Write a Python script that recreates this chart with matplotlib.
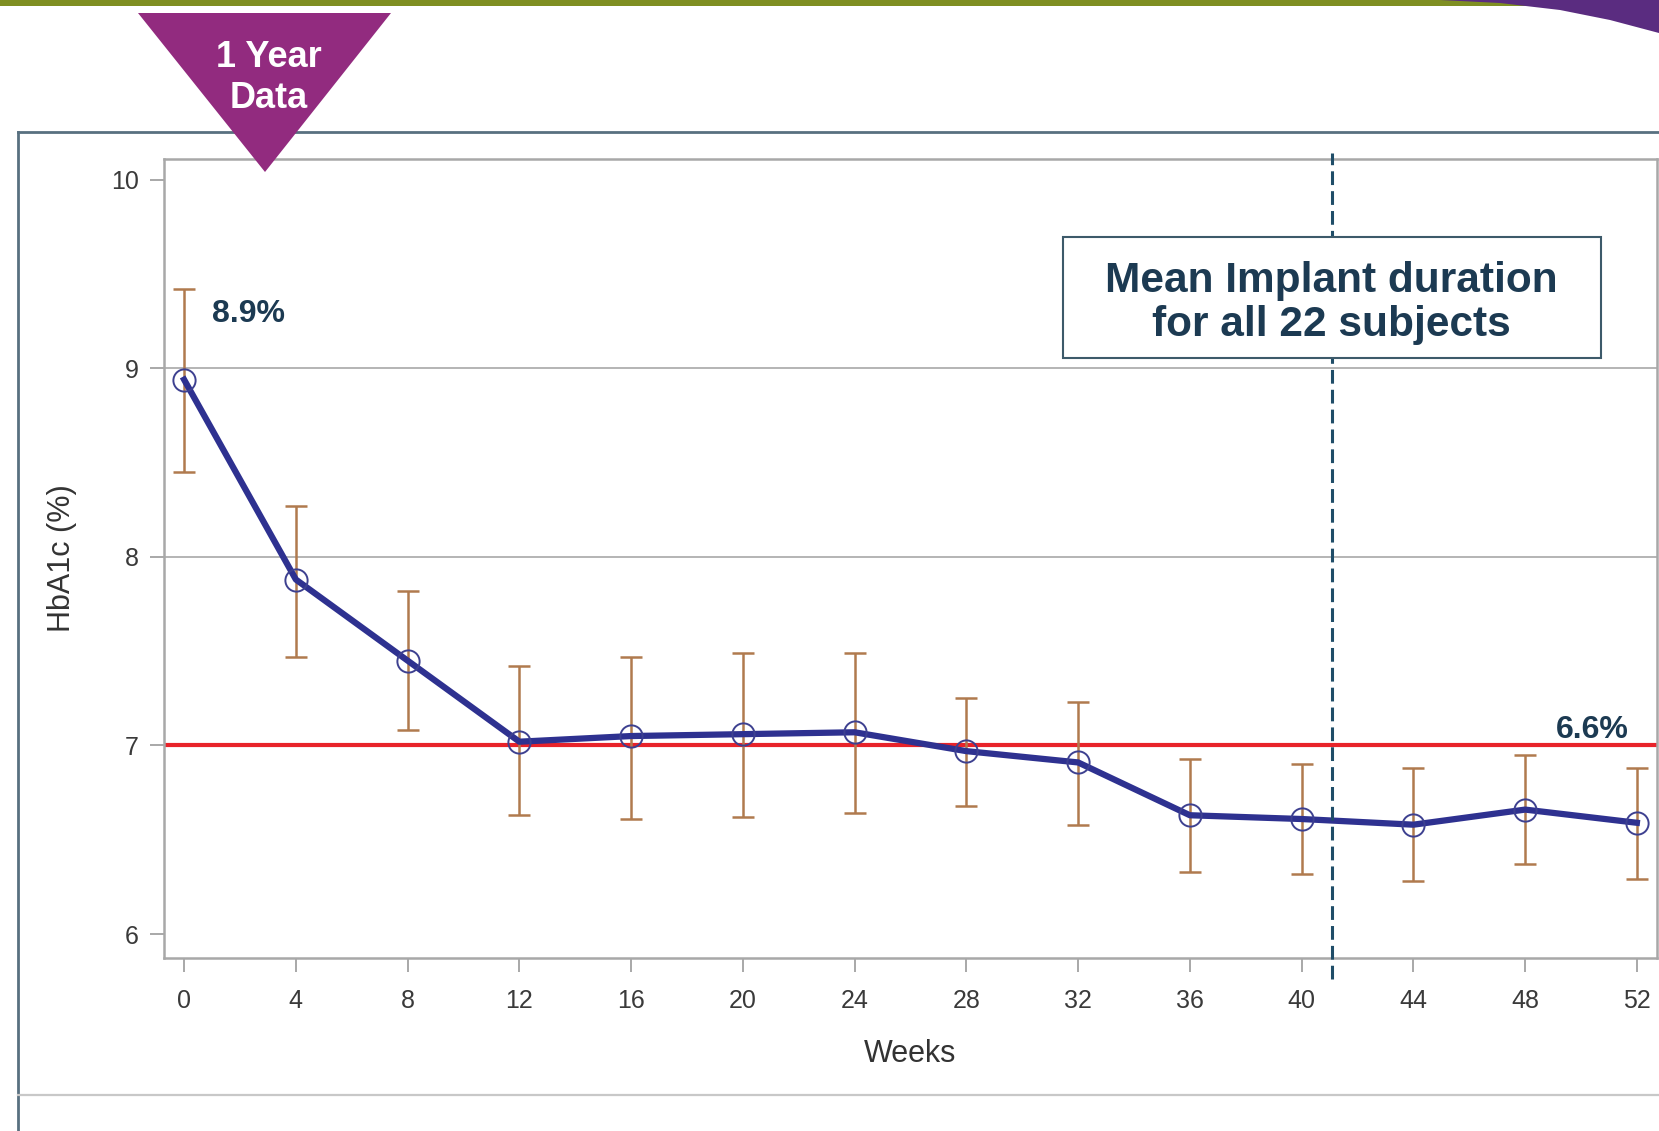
import numpy as np
import matplotlib.pyplot as plt
from matplotlib.patches import Polygon, Rectangle
from matplotlib.lines import Line2D

plt.rcParams['font.family'] = ['Liberation Sans', 'DejaVu Sans']

# datos
weeks = [0, 4, 8, 12, 16, 20, 24, 28, 32, 36, 40, 44, 48, 52]
hba1c = [8.94, 7.88, 7.45, 7.02, 7.05, 7.06, 7.07, 6.97, 6.91, 6.63, 6.61, 6.58, 6.66, 6.59]
upper = [9.42, 8.27, 7.82, 7.42, 7.47, 7.49, 7.49, 7.25, 7.23, 6.93, 6.90, 6.88, 6.95, 6.88]
lower = [8.45, 7.47, 7.08, 6.63, 6.61, 6.62, 6.64, 6.68, 6.58, 6.33, 6.32, 6.28, 6.37, 6.29]
target = 7.0
implant_week = 41.1
yticks = [6, 7, 8, 9, 10]
start_label = '8.9%'
end_label = '6.6%'
box_text = 'Mean Implant duration\nfor all 22 subjects'
banner_text = '1 Year\nData'

W, H = 1659, 1131


def px(x, y):
    # pixeles de la imagen -> fraccion de figura
    return (x / W, 1 - y / H)


fig = plt.figure(figsize=(W / 100, H / 100), dpi=100)
ax = fig.add_axes([164 / W, 1 - 958 / H, (1657 - 164) / W, (958 - 159) / H])

hba1c = np.array(hba1c)
yerr = [hba1c - np.array(lower), np.array(upper) - hba1c]

# grilla y linea objetivo
for y in [8, 9]:
    ax.axhline(y, color='#b4b4b4', lw=1.4, zorder=1)
ax.axhline(target, color='#e8232a', lw=3, zorder=2)

# barras de error, linea y marcadores
ax.errorbar(weeks, hba1c, yerr=yerr, fmt='none', ecolor='#b07a4e', elinewidth=1.8,
            capsize=8, capthick=1.8, zorder=3)
ax.plot(weeks, hba1c, color='#2e3190', lw=4.5, zorder=4)
ax.plot(weeks, hba1c, 'o', mfc='none', mec='#3d4090', ms=16, mew=1.4, zorder=5)

# linea vertical punteada (duracion media del implante)
ax.axvline(implant_week, ymin=-0.026, ymax=1.008, color='#1f4d68', lw=2.2,
           dashes=(4.5, 2), clip_on=False, zorder=6)

ax.set_xlim(-0.72, 52.72)
ax.set_ylim(5.873, 10.11)
ax.set_xticks(weeks)
ax.set_yticks(yticks)
ax.tick_params(axis='both', direction='out', length=10, width=1.2, color='#9a9a9a',
               labelcolor='#3a3a3a', labelsize=18)
ax.tick_params(axis='x', pad=12)
ax.tick_params(axis='y', pad=8)
for s in ax.spines.values():
    s.set_color('#a8a8a8')
    s.set_linewidth(1.8)

ax.set_xlabel('Weeks', fontsize=22, color='#333333')
ax.set_ylabel('HbA1c (%)', fontsize=22, color='#333333')
ax.xaxis.set_label_coords(0.5, -0.101)
ax.yaxis.set_label_coords(-0.058, 0.5)

# etiquetas de valores
ax.text(2.29, 9.29, start_label, fontsize=23, fontweight='bold', color='#1c3a52',
        ha='center', va='center')
ax.text(50.4, 7.08, end_label, fontsize=23, fontweight='bold', color='#1c3a52',
        ha='center', va='center')

# cuadro de texto
ax.add_patch(Rectangle((0.602, 0.751), 0.3605, 0.151, transform=ax.transAxes,
                       facecolor='white', edgecolor='#3d5a6a', lw=1.5, zorder=7))
ax.text(0.782, 0.8195, box_text, transform=ax.transAxes, fontsize=30.5, fontweight='bold',
        color='#1c3a52', ha='center', va='center', linespacing=1.14, zorder=8)

# marco exterior
fig.add_artist(Line2D([18 / W, 1], [1 - 132 / H] * 2, color='#587080', lw=2))
fig.add_artist(Line2D([18 / W] * 2, [0, 1 - 132 / H], color='#587080', lw=2))
fig.add_artist(Line2D([18 / W, 1], [1 - 1095 / H] * 2, color='#c8c8c8', lw=1.6))

# banda superior verde y curva violeta
fig.add_artist(Rectangle(px(0, 6), 1, 6 / H, transform=fig.transFigure,
                         facecolor='#7f8f22', edgecolor='none'))
fig.add_artist(Polygon([px(1440, 0), px(1500, 3), px(1560, 10), px(1610, 20),
                        px(1659, 33), px(1659, 0)], closed=True,
                       transform=fig.transFigure, facecolor='#5a2c80', edgecolor='none'))

# triangulo "1 Year Data"
fig.add_artist(Polygon([px(138, 13), px(391, 13), px(265, 172)], closed=True,
                       transform=fig.transFigure, facecolor='#922b7f',
                       edgecolor='none', zorder=10))
fig.text(269 / W, 1 - 78 / H, banner_text, fontsize=26, fontweight='bold', color='white',
         ha='center', va='center', linespacing=1.22, zorder=11)

fig.savefig('out.png', dpi=100)
